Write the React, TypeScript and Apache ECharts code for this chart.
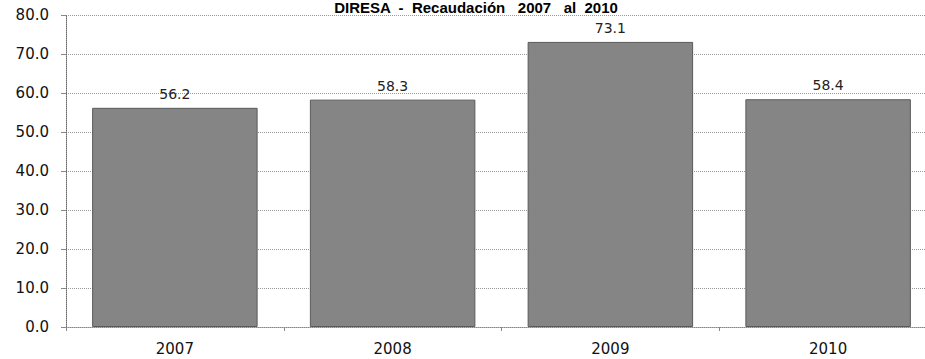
import React, { useEffect, useRef } from "react";
import * as echarts from "echarts";

const categories = ["2007", "2008", "2009", "2010"];
const values = [56.2, 58.3, 73.1, 58.4];
const titleText = "DIRESA  -  Recaudación   2007   al  2010";

export default function App() {
  const ref = useRef<HTMLDivElement>(null);
  useEffect(() => {
    const chart = echarts.init(ref.current!, null, { renderer: "svg" });
    chart.setOption({
      animation: false,
      backgroundColor: "#ffffff",
      title: {
        text: titleText,
        left: 476,
        textAlign: "center",
        top: 0,
        padding: 0,
        textStyle: { fontFamily: "Liberation Sans", fontWeight: "bold", fontSize: 15, lineHeight: 15, color: "#000" },
      },
      grid: { left: 66, width: 871, top: 15, bottom: 32, outerBoundsMode: "none", containLabel: false },
      xAxis: {
        type: "category",
        data: categories,
        axisLine: { show: true, lineStyle: { color: "#888", type: "dotted" } },
        axisTick: { show: true, lineStyle: { color: "#888" }, length: 4 },
        axisLabel: { fontFamily: "DejaVu Sans", fontSize: 15, color: "#111", margin: 14 },
      },
      yAxis: {
        type: "value",
        min: 0,
        max: 80,
        interval: 10,
        axisLine: { show: true, lineStyle: { color: "#666", type: "dotted" } },
        axisTick: { show: true, lineStyle: { color: "#888" }, length: 5 },
        splitLine: { lineStyle: { color: "#999", type: "dotted" } },
        axisLabel: {
          fontFamily: "DejaVu Sans",
          fontSize: 15,
          color: "#111",
          margin: 17,
          formatter: (v: number) => v.toFixed(1),
        },
      },
      series: [
        {
          type: "bar",
          data: values,
          barCategoryGap: "24%",
          itemStyle: { color: "#858585", borderColor: "#5a5a5a", borderWidth: 1 },
          label: {
            show: true,
            position: "top",
            distance: 7,
            fontFamily: "DejaVu Sans",
            fontSize: 14,
            color: "#222",
            formatter: (p: any) => p.value.toFixed(1),
          },
        },
      ],
    });
    return () => chart.dispose();
  }, []);
  return <div ref={ref} style={{ position: "absolute", left: 0, top: 0, width: 925, height: 359 }} />;
}
